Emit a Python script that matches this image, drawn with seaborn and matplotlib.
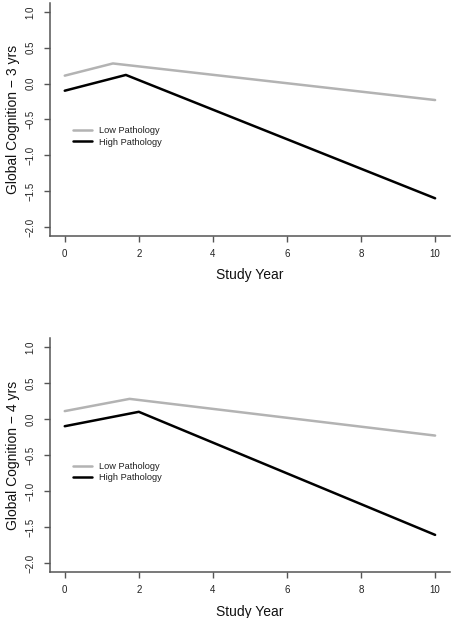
import matplotlib
matplotlib.use("Agg")
import matplotlib.pyplot as plt
import seaborn as sns
import pandas as pd

# Panel 1 (3 yrs)
p1_low_x = [0, 1.3, 10]
p1_low_y = [0.11, 0.28, -0.23]
p1_high_x = [0, 1.65, 10]
p1_high_y = [-0.10, 0.12, -1.60]
# Panel 2 (4 yrs)
p2_low_x = [0, 1.75, 10]
p2_low_y = [0.11, 0.28, -0.23]
p2_high_x = [0, 2.0, 10]
p2_high_y = [-0.10, 0.10, -1.61]

groups = ["Low Pathology", "High Pathology"]
ylabels = ["Global Cognition \u2212 3 yrs", "Global Cognition \u2212 4 yrs"]
xlabel = "Study Year"
xticks = [0, 2, 4, 6, 8, 10]
yticks = [-2.0, -1.5, -1.0, -0.5, 0.0, 0.5, 1.0]

sns.set_style("ticks")
plt.rcParams["font.family"] = ["Liberation Sans", "DejaVu Sans"]

def make_df(lx, ly, hx, hy):
    rows = []
    for x, y in zip(lx, ly):
        rows.append({"year": x, "value": y, "group": groups[0]})
    for x, y in zip(hx, hy):
        rows.append({"year": x, "value": y, "group": groups[1]})
    return pd.DataFrame(rows)

dfs = [make_df(p1_low_x, p1_low_y, p1_high_x, p1_high_y),
       make_df(p2_low_x, p2_low_y, p2_high_x, p2_high_y)]

fig = plt.figure(figsize=(4.54, 6.18), dpi=100)
positions = [[0.110, 0.6188, 0.881, 0.376], [0.110, 0.0751, 0.881, 0.3773]]
palette = {groups[0]: "#b3b3b3", groups[1]: "#000000"}
axcol = "#555555"

for df, pos, ylab in zip(dfs, positions, ylabels):
    ax = fig.add_axes(pos)
    sns.lineplot(data=df, x="year", y="value", hue="group", hue_order=groups,
                 palette=palette, linewidth=1.8, ax=ax, estimator=None, sort=False)
    ax.set_xlim(-0.4, 10.4)
    ax.set_ylim(-2.12, 1.12)
    ax.set_xticks(xticks)
    ax.set_xticklabels([str(t) for t in xticks])
    ax.set_yticks(yticks)
    ax.set_yticklabels([f"{t:.1f}".replace("-", "\u2212") for t in yticks],
                       rotation=90, va="center")
    ax.tick_params(axis="both", direction="out", length=4.5, width=1, color=axcol,
                   labelsize=7, labelcolor="#222222")
    ax.tick_params(axis="x", pad=5.5)
    ax.tick_params(axis="y", pad=6)
    for s in ["top", "right"]:
        ax.spines[s].set_visible(False)
    for s in ["left", "bottom"]:
        ax.spines[s].set_color(axcol)
        ax.spines[s].set_linewidth(1.1)
    ax.set_xlabel(xlabel, fontsize=10, labelpad=6.5, color="#111111")
    ax.set_ylabel(ylab, fontsize=10, labelpad=4, color="#111111")
    leg = ax.legend(frameon=False, loc="center left", bbox_to_anchor=(0.0575, 0.426),
                    borderaxespad=0, borderpad=0, handlelength=2.0, handletextpad=0.85,
                    labelspacing=0.25, fontsize=6.7)
    for t in leg.get_texts():
        t.set_color("#222222")

fig.savefig("out.png", dpi=100)
